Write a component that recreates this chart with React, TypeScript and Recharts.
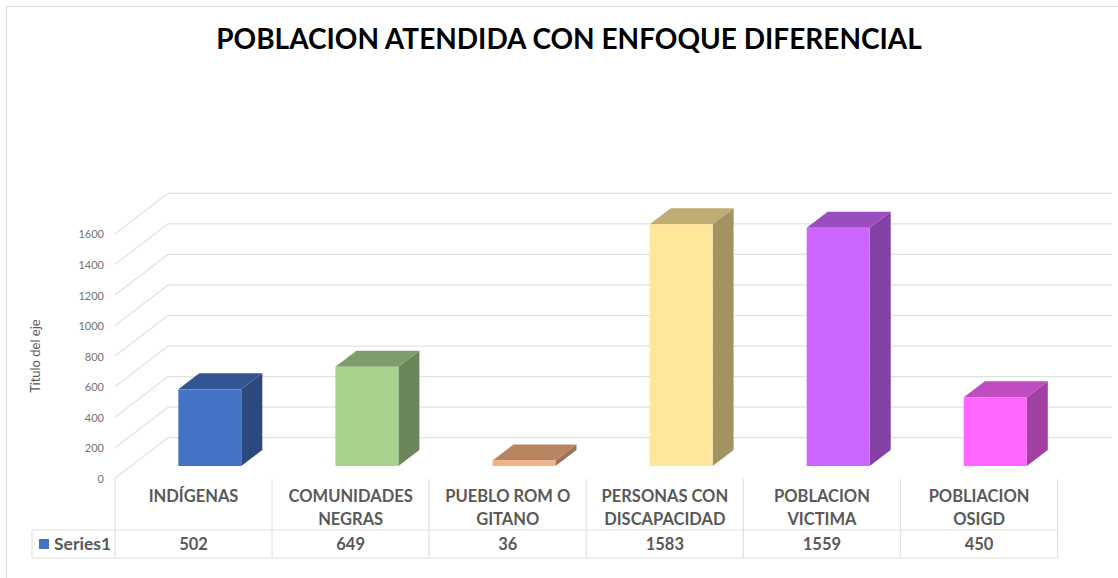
import { BarChart, Bar, XAxis, YAxis, CartesianGrid } from 'recharts';

const categories = ['INDÍGENAS', 'COMUNIDADES NEGRAS', 'PUEBLO ROM O GITANO', 'PERSONAS CON DISCAPACIDAD', 'POBLACION VICTIMA', 'POBLIACION OSIGD'];
const labelLines = [['INDÍGENAS'], ['COMUNIDADES', 'NEGRAS'], ['PUEBLO ROM O', 'GITANO'], ['PERSONAS CON', 'DISCAPACIDAD'], ['POBLACION', 'VICTIMA'], ['POBLIACION', 'OSIGD']];
const values = [502, 649, 36, 1583, 1559, 450];
const barColors = ['#4472C4', '#A9D18E', '#F4B183', '#FFE699', '#CC66FF', '#FF66FF'];
const yTicks = [0, 200, 400, 600, 800, 1000, 1200, 1400, 1600];

const data = categories.map((name, i) => ({ name, value: values[i] }));

const FONT = 'Lato, sans-serif';
const GRID = '#E2E2E2';
const TEXT = '#595959';

// depth of the fake 3D look
const DX = 21;
const DY = 16;

function shade(hex: string, f: number) {
  const n = parseInt(hex.slice(1), 16);
  const c = [(n >> 16) & 255, (n >> 8) & 255, n & 255].map((v) => Math.round(v * f));
  return `rgb(${c[0]},${c[1]},${c[2]})`;
}

function Box3D(props: any) {
  const { x, y, width, height, index } = props;
  const color = barColors[index];
  const r = x + width;
  const b = y + height;
  return (
    <g>
      <polygon points={`${r},${y} ${r + DX},${y - DY} ${r + DX},${b - DY} ${r},${b}`} fill={shade(color, 0.64)} />
      <polygon points={`${x},${y} ${x + DX},${y - DY} ${r + DX},${y - DY} ${r},${y}`} fill={shade(color, 0.75)} />
      <rect x={x} y={y} width={width} height={height} fill={color} />
    </g>
  );
}

// floor offset: the front edge sits below the bar base, the back wall above it
function GridLine(props: any) {
  const y = props.y1;
  return (
    <g key={props.key ?? y}>
      <line x1={115} y1={y + 12.3} x2={168} y2={y - 28.3} stroke={GRID} strokeWidth={1.2} />
      <line x1={168} y1={y - 28.3} x2={1112} y2={y - 28.3} stroke={GRID} strokeWidth={1.2} />
    </g>
  );
}

function YTick(props: any) {
  return (
    <text x={104} y={props.y + 12.3} dy={4.5} textAnchor="end" fontFamily={FONT} fontSize={11} fill="#737373">
      {props.payload.value}
    </text>
  );
}

function TableCell(props: any) {
  const { x, index } = props;
  const left = x - 94.8;
  const right = left + 157;
  const cx = left + 78.5;
  const lines = labelLines[index];
  return (
    <g fontFamily={FONT} fontWeight={700} fill={TEXT} fontSize={16.5}>
      {index === 0 && (
        <g>
          <line x1={115} y1={478} x2={115} y2={558} stroke={GRID} strokeWidth={1.2} />
          <line x1={32} y1={530} x2={115} y2={530} stroke={GRID} strokeWidth={1.2} />
          <line x1={32} y1={558} x2={115} y2={558} stroke={GRID} strokeWidth={1.2} />
          <line x1={32} y1={530} x2={32} y2={558} stroke={GRID} strokeWidth={1.2} />
          <rect x={39} y={539} width={10} height={10} fill={barColors[0]} />
          <text x={54} y={549.5} fontSize={17.5}>Series1</text>
        </g>
      )}
      <line x1={right} y1={479} x2={right} y2={558} stroke={GRID} strokeWidth={1.2} />
      <line x1={left} y1={530} x2={right} y2={530} stroke={GRID} strokeWidth={1.2} />
      <line x1={left} y1={558} x2={right} y2={558} stroke={GRID} strokeWidth={1.2} />
      {lines.map((t, i) => (
        <text key={t} x={cx} y={501.5 + i * 23} textAnchor="middle">{t}</text>
      ))}
      <text x={cx} y={549.5} textAnchor="middle">{values[index]}</text>
    </g>
  );
}

export default function App() {
  return (
    <div style={{ position: 'absolute', left: 0, top: 0, width: 1118, height: 578, overflow: 'hidden', background: '#fff' }}>
      <div style={{ position: 'absolute', left: 6, top: 6, right: 0, bottom: 0, borderLeft: '1.5px solid #DADADA', borderTop: '1.5px solid #DADADA' }} />
      <div style={{ position: 'absolute', left: 0, width: 1138, top: 18, textAlign: 'center', fontFamily: FONT, fontWeight: 700, fontSize: 28, color: '#000', lineHeight: '40px' }}>
        POBLACION ATENDIDA CON ENFOQUE DIFERENCIAL
      </div>
      <div style={{ position: 'absolute', left: 35, top: 356, transform: 'translate(-50%, -50%) rotate(-90deg)', fontFamily: FONT, fontSize: 13, color: '#595959', whiteSpace: 'nowrap' }}>
        Título del eje
      </div>
      <div style={{ position: 'absolute', left: 0, top: 0 }}>
        <BarChart width={1118} height={578} data={data} barSize={63} margin={{ top: 221.6, right: 44.1, bottom: 0, left: 91.3 }}>
          <CartesianGrid vertical={false} horizontal={(p: any) => <GridLine {...p} />} />
          <XAxis dataKey="name" height={112} interval={0} axisLine={false} tickLine={false} tickSize={0} tick={(p: any) => <TableCell {...p} />} />
          <YAxis width={40} domain={[0, 1600]} ticks={yTicks} axisLine={false} tickLine={false} tick={(p: any) => <YTick {...p} />} />
          <Bar dataKey="value" isAnimationActive={false} shape={(p: any) => <Box3D {...p} />} />
        </BarChart>
      </div>
    </div>
  );
}
